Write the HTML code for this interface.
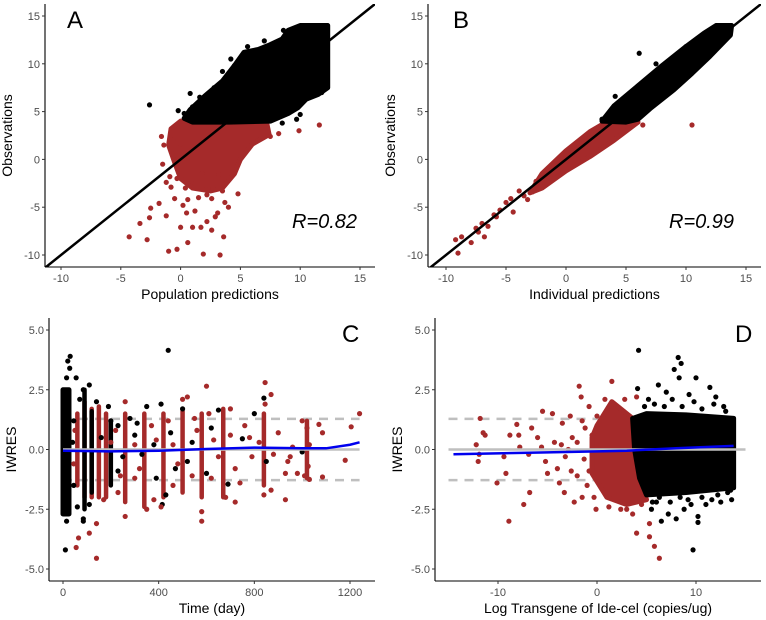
<!DOCTYPE html>
<html><head><meta charset="utf-8"><style>
body{margin:0;background:#fff;}
svg{display:block;font-family:"Liberation Sans",sans-serif;}
.tick{font-size:11px;fill:#4d4d4d;}
.ttl{font-size:14px;fill:#000;}
</style></head><body>
<svg id="fig" width="766" height="620" viewBox="0 0 766 620"></svg>
<script>
// ---------- Panel A data ----------
const aBlackBlob=[[0.3,4.3],[0.8,5.2],[2,6.6],[3.5,8.2],[4.5,9.8],[5.3,11.2],[6.5,11.5],[7.5,12],[8.5,12.6],[9,13.5],[10,14],[12.3,14],[12.3,7.5],[11.5,6.8],[10.5,6.3],[9.8,5.4],[9,4.8],[7.5,4],[4,3.9],[1,3.9]];
const aRedBlob=[[-0.8,3.2],[0,4],[6,4],[7.2,3.8],[7.4,2.6],[6,1.6],[5,0],[4.5,-1.5],[3.5,-3],[2.5,-3.3],[1,-3],[0,-2],[-0.5,-0.3],[-1,1.5]];
const aRedPts=[[-4.3,-8.1],[-2.8,-8.4],[-1,-9.6],[-0.3,-9.4],[1.9,-9.9],[3.3,-10],[0.6,-8.7],[0,-7.1],[1,-7.1],[1.7,-7.1],[2.6,-7.4],[3.6,-8.1],[-3.4,-6.7],[-2.6,-6.1],[-2.5,-5.1],[-1.8,-4.6],[-1.2,-5.9],[-0.5,-4.1],[0.2,-4.8],[0.6,-4.2],[1.2,-5.4],[2.2,-6.5],[2.6,-4.1],[3.1,-5.6],[3.5,-3.3],[4.8,-3.6],[-0.8,-2.9],[-0.3,-2],[0.4,-3],[-1.5,-0.5],[-1.6,2.4],[-1.4,1.5],[-0.6,2],[0,1.6],[4,-5],[2.7,-3],[1.8,-1.5],[9.9,3],[11.6,3.6],[7.5,2.4],[8.2,2.7],[1.2,-2.5],[3.2,-1.6],[-0.9,-1.8],[2.2,-3.7],[-1.2,-2.4],[0.5,-5.6],[1.5,-4],[2.9,-6],[3.7,-4.5]];
const aBlackPts=[[-2.6,5.7],[0.8,6.9],[0.3,4.8],[-0.2,5.1],[1.6,6.5],[2.8,7.5],[3.8,8],[4.5,9.8],[5.6,11.8],[6,11.3],[8,12.2],[9,12.8],[9.7,4.2],[8.5,3.8],[10,4.7],[11.8,7],[11.2,6.8],[1,5.5],[2,6],[3.5,9.2],[4.2,10.5],[7,12.4],[8.6,13.5],[2.5,4.7]];
// ---------- Panel B data ----------
const bBlackBlob=[[3,4],[4,5.6],[6,7.7],[8,9.8],[10,11.8],[11.5,13.2],[12.5,14],[13.8,14],[13.7,13],[12,10.8],[10.5,9],[9,7.3],[7,5.3],[6,4.2],[5,3.9]];
const bRedBlob=[[-3,-3.5],[-2,-1.5],[0,0.9],[2,2.9],[3.5,4],[6,3.9],[4,2],[2,0.3],[0,-1.2],[-2,-3]];
const bRedPts=[[-9.2,-8.4],[-9,-9.8],[-8.7,-8.1],[-7.9,-8.7],[-7.5,-7.2],[-7,-6.7],[-6.8,-8.1],[-6.5,-7],[-6,-5.8],[-5.5,-5.3],[-5,-4.5],[-4.6,-4.1],[-4.4,-5.5],[-3.9,-3.3],[-3.5,-3.8],[-3.2,-4.2],[-2.8,-3.4],[-2.5,-2.3],[-1.8,-1.3],[-1,-0.7],[10.5,3.6],[-7.3,-7.6],[-5.8,-6],[6.4,3.6],[5.5,3.5]];
const bBlackPts=[[6.1,11.1],[4.1,6.6],[8.5,7.1],[10,11.8],[7.5,10],[3,4.2],[5,6.5]];
// ---------- Panel C data ----------
const cBlackBlob=[[0,-2.7],[25,-2.7],[25,2.5],[0,2.5]];
const colTime=[60,90,120,150,180,260,340,420,500,580,670,840,1020,90,120,200];
const colLow=[-1.5,-2,-2,-2,-2,-2.2,-2.4,-2,-1.8,-2,-2,-1.5,-1.2,-2.5,-1.8,-1.5];
const colHigh=[1.5,2,1.7,1.8,1.5,1.5,1.5,1.5,1.6,1.5,1.7,1.5,1.2,2.5,1.6,1.2];
const colRed=[1,1,1,1,1,1,1,1,1,1,1,1,1,0,0,0];
const cBlackPts=[[10,-4.2],[15,3],[20,3.7],[30,3.9],[28,3.4],[55,3],[440,4.15],[15,-3],[60,-2.4],[85,-3],[85,-2.9],[110,-2.3],[110,2.7],[70,2.1],[85,2.5],[140,2],[190,1.8],[200,1.2],[230,1],[280,1.3],[300,0.6],[330,-0.2],[350,1.8],[410,1.9],[415,-2.3],[430,-1.9],[470,-0.8],[500,1.7],[520,-0.5],[600,-1],[650,1.65],[690,-1.45],[750,0.45],[800,1.5],[840,2.15],[850,-0.5],[1000,-0.1],[380,0.2],[250,-0.3],[160,0.5],[45,1.2],[45,-1.5],[40,0.3],[230,-0.9],[310,1.1],[390,-1.2],[450,0.7],[540,0.3],[620,0.9]];
const cRedPts=[[55,-4.1],[65,-3.7],[110,-3.5],[140,-3.1],[140,-4.55],[260,-2.8],[260,2],[300,-1.2],[350,-2.5],[380,-2.1],[410,-2.4],[500,2.1],[520,2.2],[580,-2.6],[580,-3],[600,2.65],[620,-1.2],[680,-2],[700,1.7],[720,-2.2],[760,1],[790,-0.3],[820,0.3],[845,2.8],[845,1.9],[840,-1.9],[870,2.3],[870,-1.7],[880,-0.2],[930,-2.1],[940,-0.5],[950,-0.3],[930,-1],[980,-1],[1000,1.2],[1010,-1.1],[1020,0.9],[1025,-0.7],[1030,-1.25],[1030,0.2],[1070,1.05],[1085,0.7],[1085,-1.15],[1180,-0.45],[1205,0.95],[1240,1.5],[960,0.1],[900,0.7],[780,0.5],[650,-0.3],[560,0.8],[460,-1.5],[230,-1.8],[170,-2.1],[200,0.3],[220,0.8],[240,-1.1],[300,0.2],[320,-0.8],[370,1],[390,0.4],[440,1.2],[460,0.2],[480,-0.6],[540,-1.1],[550,1.3],[610,1.5],[630,0.4],[700,0.6],[720,-0.8],[740,-1.4],[50,0.8],[45,-0.6]];
const cSmooth=[[0,-0.05],[200,-0.08],[400,-0.05],[600,0.02],[800,0.08],[1000,0.05],[1100,0.05],[1200,0.2],[1240,0.3]];
// ---------- Panel D data ----------
const dBlackBlob=[[3.6,1.3],[5,1.5],[9,1.45],[13.8,1.3],[13.8,-1.6],[9,-1.8],[5,-1.9],[4.3,-1.2],[3.8,0]];
const dRedBlob=[[0,1],[1.5,2],[3.6,1.3],[3.8,0],[4.3,-1.2],[5,-2.1],[3,-2.3],[1,-2],[-0.5,-1],[-0.5,0.5]];
const dRedPts=[[-11.8,1.3],[-11.5,0.7],[-11.3,0.6],[-12.2,0.2],[-12,-0.5],[-11.9,-0.2],[-10.1,-1.4],[-9.4,-0.3],[-9.2,-1],[-8.9,-3],[-8.8,0.6],[-8.1,1.05],[-7.9,0.6],[-7.8,0.1],[-7.4,-2.3],[-6.9,-0.2],[-6.8,-1.8],[-6.6,0.9],[-6,0.5],[-5.6,0.1],[-5.5,1.6],[-5.2,-0.5],[-5,-1],[-4.5,1.5],[-4.3,0.3],[-4,-0.8],[-3.5,1.1],[-3.3,-1.8],[-3.2,-0.3],[-2.7,1.4],[-2.5,0.5],[-2.3,-2.2],[-2,-1.1],[-1.8,2.65],[-1.6,2.2],[-1.5,-2],[-1.2,0.9],[-1,-1.5],[-0.8,1.8],[-0.5,0.6],[-0.3,-2],[0,1.4],[-0.1,-2.5],[0.8,2.1],[1.5,2.85],[1.2,-2.4],[2.4,-2.5],[3,-2.5],[3.6,-2.7],[4,-3.5],[5.3,-3.1],[5.3,-3.65],[5.8,-4.05],[6.3,-4.55],[4.5,-2.3],[4,2.2],[2.8,2.1],[-3.8,-1.4],[-2.9,0.0],[-1.3,-0.4],[-2,0.3],[-1.5,1.2],[-0.8,-0.9],[-2.6,-0.9],[-3.6,0.2]];
const dBlackPts=[[4.2,4.15],[4.1,2.55],[9.7,-4.2],[8.2,3.85],[8.5,3.6],[7.8,3.35],[8.3,3],[10,3],[6.2,2.7],[11.4,2.6],[12,2.2],[5.5,-2.5],[6.5,-3],[7.2,-2.7],[8,-2.9],[8.8,-2.5],[10.2,-2.8],[10.2,-3.05],[11,-2.3],[12.5,-2.2],[13.2,-1.8],[13.5,-1.7],[7,2.4],[5.2,2.1],[9.3,2.3],[12.8,1.8],[6,-2.2],[9.5,-2.3],[5.8,1.9],[6.8,1.8],[7.6,2.1],[8.6,1.8],[9.8,2],[10.6,1.7],[11.8,1.9],[13,1.6],[4.8,1.8],[6.3,-2],[7.4,-2.2],[8.4,-2],[9.2,-2.1],[10.6,-2],[11.6,-2.1],[12.2,-1.9],[13.6,-2.1],[5.6,-2.2]];
const dSmooth=[[-14.5,-0.2],[-5,-0.12],[0,-0.08],[3,-0.05],[8,0.05],[13.8,0.15]];
const abTicks=[-10,-5,0,5,10,15];
const cxTicks=[0,400,800,1200];
const dxTicks=[-10,0,10];
const resTicks=[-5,-2.5,0,2.5,5];
const resTickLabels=["-5.0","-2.5","0.0","2.5","5.0"];

const NS="http://www.w3.org/2000/svg";
const svg=document.getElementById('fig');
function mk(tag,attrs,parent){const e=document.createElementNS(NS,tag);for(const k in attrs)e.setAttribute(k,attrs[k]);(parent||svg).appendChild(e);return e;}
function lin(d0,d1,r0,r1){return v=>r0+(v-d0)*(r1-r0)/(d1-d0);}
const RED="#a52a2a";

function panel(p){
  const g=mk('g',{});
  
  
  const X=p.X,Y=p.Y;
  const cid='clip-'+p.letter;
  const cp=mk('clipPath',{id:cid},g);mk('rect',{x:p.left,y:p.top,width:p.right-p.left,height:p.bottom-p.top},cp);
  const plot=mk('g',{'clip-path':'url(#'+cid+')'},g);
  
  
  (p.under||[]).forEach(f=>f(plot));
  const blob=(pts,col,nm)=>{const e=mk('polygon',{points:pts.map(q=>X(q[0])+','+Y(q[1])).join(' '),fill:col,stroke:col,'stroke-width':5,'stroke-linejoin':'round'},plot);
    
    };
  const dots=(pts,col,nm)=>pts.forEach(q=>{const e=mk('circle',{cx:X(q[0]),cy:Y(q[1]),r:2.6,fill:col},plot);
    
    });
  p.draw(blob,dots,plot);
  (p.over||[]).forEach(f=>f(plot));
  const ax=mk('line',{x1:p.left,y1:p.bottom,x2:p.right,y2:p.bottom,stroke:'#000','stroke-width':1.1},g);
  
  
  const ay=mk('line',{x1:p.left,y1:p.top,x2:p.left,y2:p.bottom,stroke:'#000','stroke-width':1.1},g);
  
  
  p.xt.forEach((v,i)=>{mk('line',{x1:X(v),x2:X(v),y1:p.bottom,y2:p.bottom+3,stroke:'#333'},g);
    const t=mk('text',{x:X(v),y:p.bottom+15,'text-anchor':'middle',class:'tick'},g);t.textContent=p.xl?p.xl[i]:String(v);
    
    });
  p.yt.forEach((v,i)=>{mk('line',{x1:p.left-3,x2:p.left,y1:Y(v),y2:Y(v),stroke:'#333'},g);
    const t=mk('text',{x:p.left-5,y:Y(v)+4,'text-anchor':'end',class:'tick'},g);t.textContent=p.yl?p.yl[i]:String(v);
    
    });
  const xt=mk('text',{x:(p.left+p.right)/2,y:p.bottom+32,'text-anchor':'middle',class:'ttl'},g);xt.textContent=p.xtitle;
  
  
  const yx=p.left-33,yy=(p.top+p.bottom)/2;
  const yt=mk('text',{x:yx,y:yy,'text-anchor':'middle',class:'ttl',transform:'rotate(-90 '+yx+' '+yy+')'},g);yt.textContent=p.ytitle;
  
  
  const lt=mk('text',{x:p.lx,y:p.ly,'font-size':24,fill:'#000'},g);lt.textContent=p.letter;
  
  
  if(p.rtext){const r=mk('text',{x:p.rx,y:p.ry,'font-size':20,'font-style':'italic',fill:'#000'},g);r.textContent=p.rtext;
    
    }
}
function identity(X,Y){return plot=>{const l=mk('line',{x1:X(-20),y1:Y(-20),x2:X(20),y2:Y(20),stroke:'#000','stroke-width':2.5},plot);
  
  };}
function refLines(X,Y,x0,x1){return plot=>{[1.28,-1.28].forEach(v=>{const l=mk('line',{x1:X(x0),x2:X(x1),y1:Y(v),y2:Y(v),stroke:'#bfbfbf','stroke-width':2.5,'stroke-dasharray':'9,7'},plot);
  
  });};}
function zeroSmooth(X,Y,x0,x1,sm){return plot=>{const z=mk('line',{x1:X(x0),x2:X(x1),y1:Y(0),y2:Y(0),stroke:'#bfbfbf','stroke-width':2.5},plot);
  
  
  const s=mk('polyline',{points:sm.map(q=>X(q[0])+','+Y(q[1])).join(' '),fill:'none',stroke:'#0000ee','stroke-width':2.5},plot);
  
  };}

{const X=lin(-10,15,61,360),Y=lin(-10,15,255,16);
panel({name:'panel-a',letter:'A',X,Y,left:45,right:375,top:4,bottom:267,xt:abTicks,yt:abTicks,xtitle:'Population predictions',ytitle:'Observations',lx:67,ly:28,rtext:'R=0.82',rx:292,ry:228,
 draw:(blob,dots)=>{blob(aRedBlob,RED,'red-cloud');dots(aRedPts,RED,'red-point');blob(aBlackBlob,'#000','obs-cloud');dots(aBlackPts,'#000','black-point');},
 over:[identity(X,Y)]});}
{const X=lin(-10,15,446,746),Y=lin(-10,15,255,16);
panel({name:'panel-b',letter:'B',X,Y,left:428,right:761,top:4,bottom:267,xt:abTicks,yt:abTicks,xtitle:'Individual predictions',ytitle:'Observations',lx:453,ly:28,rtext:'R=0.99',rx:669,ry:228,
 draw:(blob,dots)=>{blob(bRedBlob,RED,'red-band');dots(bRedPts,RED,'red-point');blob(bBlackBlob,'#000','black-band');dots(bBlackPts,'#000','black-point');},
 over:[identity(X,Y)]});}
{const X=lin(0,1200,63,350),Y=lin(-5,5,569,330);
panel({name:'panel-c',letter:'C',X,Y,left:49,right:375,top:318,bottom:581,xt:cxTicks,yt:resTicks,yl:resTickLabels,xtitle:'Time (day)',ytitle:'IWRES',lx:342,ly:342,
 under:[refLines(X,Y,0,1240)],
 draw:(blob,dots,plot)=>{blob(cBlackBlob,'#000','early-dense-cluster');
  colTime.forEach((t,i)=>{const c=mk('line',{x1:X(t),x2:X(t),y1:Y(colLow[i]),y2:Y(colHigh[i]),stroke:colRed[i]?RED:'#000','stroke-width':4.5,'stroke-linecap':'round'},plot);
   
   });
  dots(cBlackPts,'#000','black-point');dots(cRedPts,RED,'red-point');},
 over:[zeroSmooth(X,Y,0,1240,cSmooth)]});}
{const X=lin(-10,10,498,696),Y=lin(-5,5,569,330);
panel({name:'panel-d',letter:'D',X,Y,left:435,right:761,top:318,bottom:581,xt:dxTicks,yt:resTicks,yl:resTickLabels,xtitle:'Log Transgene of Ide-cel (copies/ug)',ytitle:'IWRES',lx:735,ly:342,
 under:[refLines(X,Y,-15,14)],
 draw:(blob,dots)=>{dots(dRedPts,RED,'red-point');blob(dRedBlob,RED,'red-cluster');blob(dBlackBlob,'#000','black-cluster');dots(dBlackPts,'#000','black-point');},
 over:[zeroSmooth(X,Y,-15,15,dSmooth)]});}
</script>
</body></html>
